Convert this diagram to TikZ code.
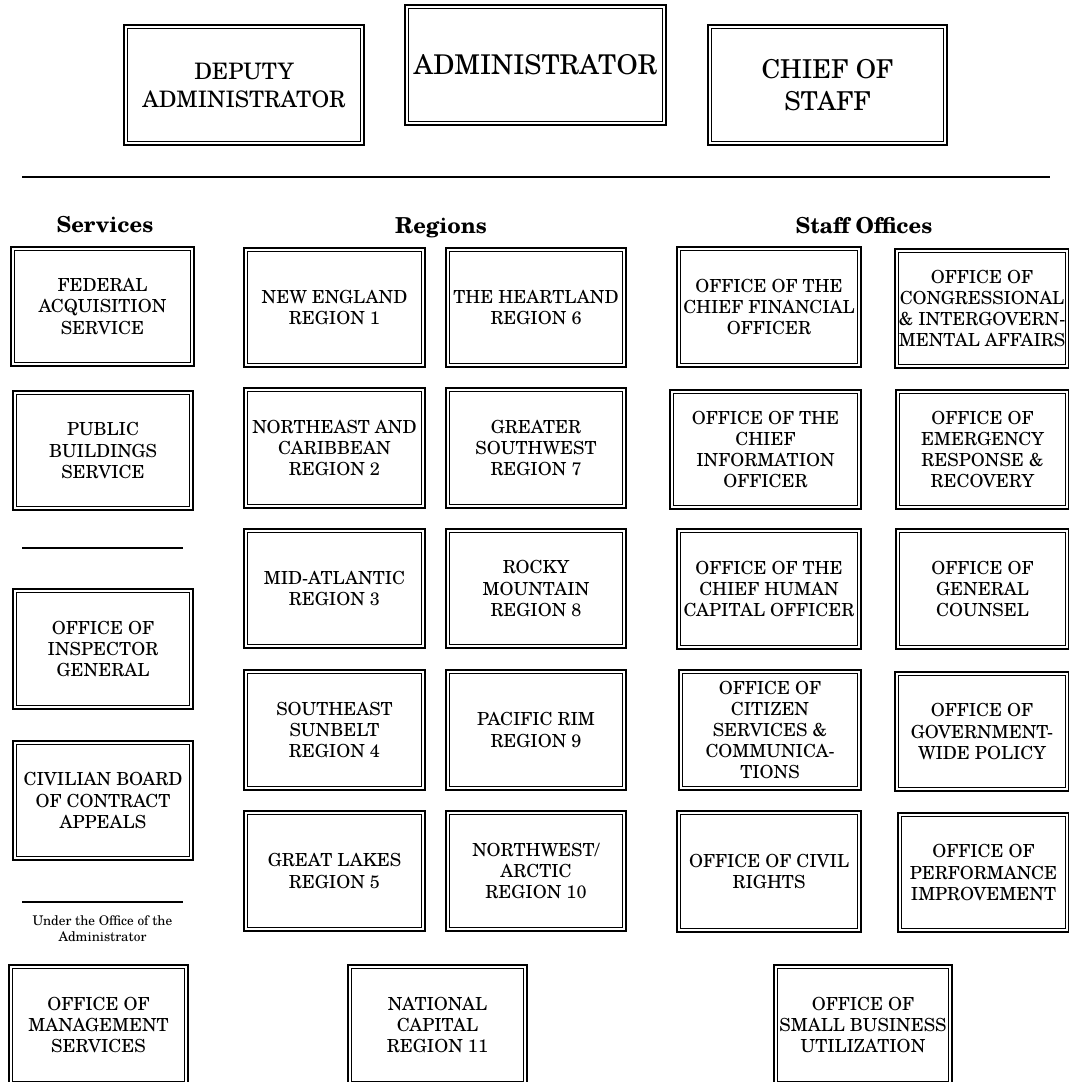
\documentclass[tikz,border=0pt]{standalone}
\usepackage{fontspec}
\setmainfont{texgyreschola}[Extension=.otf, UprightFont=*-regular, BoldFont=*-bold, ItalicFont=*-italic, BoldItalicFont=*-bolditalic]
\tikzset{
  gbox/.style={draw, line width=1.25pt, inner sep=0pt, align=center,
    font=\fontsize{13.5}{15.8}\selectfont,
    path picture={\draw[line width=0.95pt]
      ([shift={(2.86pt,2.86pt)}]path picture bounding box.south west) rectangle
      ([shift={(-2.86pt,-2.86pt)}]path picture bounding box.north east);}},
  deputyfont/.style={font=\fontsize{17}{21}\selectfont},
  adminfont/.style={font=\fontsize{20.4}{25}\selectfont},
  chieffont/.style={font=\fontsize{19.5}{24}\selectfont},
  header/.style={anchor=base, inner sep=0pt, font=\bfseries\fontsize{16.5}{19}\selectfont},
  note/.style={align=center, inner sep=0pt, font=\fontsize{10}{11.8}\selectfont},
  rule/.style={line width=1.3pt}
}
\newcommand\obox[7]{%
  \pgfmathsetmacro\gsaW{(#5-#3)*0.75-1.25}%
  \pgfmathsetmacro\gsaH{(#6-#4)*0.75-1.25}%
  \node[gbox,#1,minimum width=\gsaW pt,minimum height=\gsaH pt] (#2) at ({(#3+#5)/2},{(#4+#6)/2}) {#7};}
\begin{document}
\begin{tikzpicture}[x=0.75pt,y=-0.75pt]
\useasboundingbox[fill=white] (0,0) rectangle (1069,1082);
\begin{scope}
\clip (0,0) rectangle (1069,1082);
% top row
\obox{deputyfont}{dep}{123}{24}{365}{146}{DEPUTY\\ADMINISTRATOR}
\obox{adminfont}{adm}{404}{4}{667}{126}{ADMINISTRATOR}
\obox{chieffont}{cos}{707}{24}{948}{146}{CHIEF OF\\STAFF}
% rules
\coordinate (ta) at (22,177); \coordinate (tb) at (1050,177);
\draw[rule] (ta) -- (tb);
\coordinate (sa) at (22,548); \coordinate (sb) at (183,548);
\draw[rule] (sa) -- (sb);
\coordinate (ua) at (22,902); \coordinate (ub) at (183,902);
\draw[rule] (ua) -- (ub);
% headers
\node[header] (hserv) at (105,232) {Services};
\node[header] (hreg) at (441,233) {Regions};
\node[header] (hstaff) at (864,233) {Staff Offices};
% services
\obox{}{fas}{10}{246}{195}{367}{FEDERAL\\ACQUISITION\\SERVICE}
\obox{}{pbs}{12}{390}{194}{511}{PUBLIC\\BUILDINGS\\SERVICE}
\obox{}{oig}{12}{588}{194}{710}{OFFICE OF\\INSPECTOR\\GENERAL}
\obox{}{cbca}{12}{740}{194}{861}{CIVILIAN BOARD\\OF CONTRACT\\APPEALS}
\node[note] (under) at (102.5,929) {Under the Office of the\\Administrator};
\obox{}{oms}{8}{964}{189}{1086}{OFFICE OF\\MANAGEMENT\\SERVICES}
% regions
\obox{}{r1}{243}{247}{426}{368}{NEW ENGLAND\\REGION 1}
\obox{}{r6}{445}{247}{627}{368}{THE HEARTLAND\\REGION 6}
\obox{}{r2}{243}{387}{426}{509}{NORTHEAST AND\\CARIBBEAN\\REGION 2}
\obox{}{r7}{445}{387}{627}{509}{GREATER\\SOUTHWEST\\REGION 7}
\obox{}{r3}{243}{528}{426}{649}{MID-ATLANTIC\\REGION 3}
\obox{}{r8}{445}{528}{627}{649}{ROCKY\\MOUNTAIN\\REGION 8}
\obox{}{r4}{243}{669}{426}{791}{SOUTHEAST\\SUNBELT\\REGION 4}
\obox{}{r9}{445}{669}{627}{791}{PACIFIC RIM\\REGION 9}
\obox{}{r5}{243}{810}{426}{932}{GREAT LAKES\\REGION 5}
\obox{}{r10}{445}{810}{627}{932}{NORTHWEST/\\ARCTIC\\REGION 10}
\obox{}{r11}{347}{964}{528}{1086}{NATIONAL\\CAPITAL\\REGION 11}
% staff offices
\obox{}{s1}{676}{246}{862}{368}{OFFICE OF THE\\CHIEF FINANCIAL\\OFFICER}
\obox{}{s6}{894}{248}{1070}{369}{OFFICE OF\\CONGRESSIONAL\\\& INTERGOVERN-\\MENTAL AFFAIRS}
\obox{}{s2}{669}{389}{862}{510}{OFFICE OF THE\\CHIEF\\INFORMATION\\OFFICER}
\obox{}{s7}{895}{389}{1070}{510}{OFFICE OF\\EMERGENCY\\RESPONSE \&\\RECOVERY}
\obox{}{s3}{676}{528}{862}{650}{OFFICE OF THE\\CHIEF HUMAN\\CAPITAL OFFICER}
\obox{}{s8}{895}{528}{1070}{650}{OFFICE OF\\GENERAL\\COUNSEL}
\obox{}{s4}{678}{669}{862}{791}{OFFICE OF\\CITIZEN\\SERVICES \&\\COMMUNICA-\\TIONS}
\obox{}{s9}{894}{671}{1070}{792}{OFFICE OF\\GOVERNMENT-\\WIDE POLICY}
\obox{}{s5}{676}{810}{862}{933}{OFFICE OF CIVIL\\RIGHTS}
\obox{}{s10}{897}{812}{1070}{933}{OFFICE OF\\PERFORMANCE\\IMPROVEMENT}
\obox{}{s11}{773}{964}{953}{1086}{OFFICE OF\\SMALL BUSINESS\\UTILIZATION}
\end{scope}
\end{tikzpicture}
\end{document}
